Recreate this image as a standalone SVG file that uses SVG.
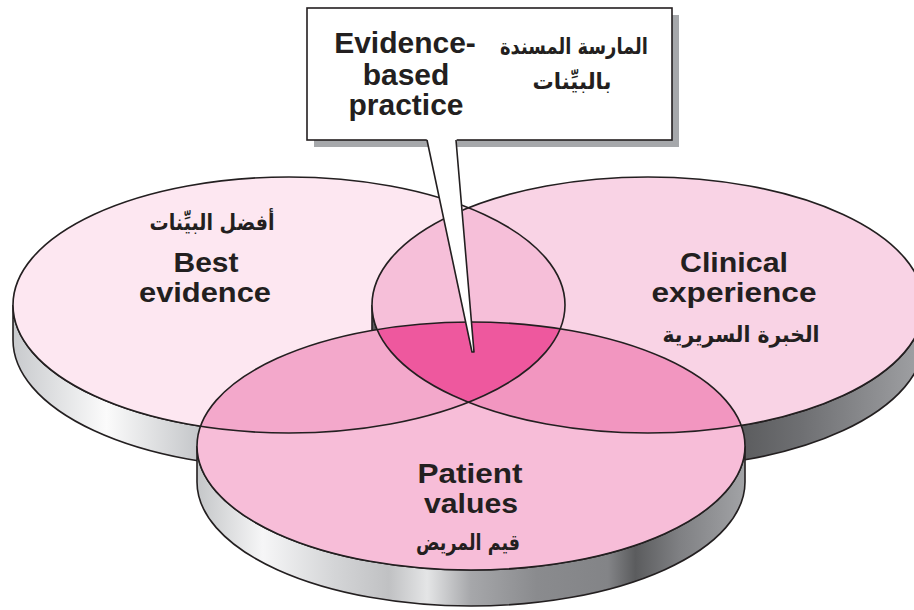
<svg xmlns="http://www.w3.org/2000/svg" width="914" height="610" viewBox="0 0 914 610">
  <defs>
    <style>
      .edge { fill: none; stroke: #231f20; stroke-width: 1.6; }
      .side { stroke: #231f20; stroke-width: 1.6; }
      .en { font-family: "Liberation Sans", Arial, Helvetica, sans-serif; font-weight: bold; font-size: 28px; fill: #231f20; text-anchor: middle; }
      .box { font-size: 30px; }
      .ar { font-family: "DejaVu Sans", "Noto Sans", sans-serif; font-weight: bold; font-size: 22px; fill: #231f20; text-anchor: middle; direction: rtl; }
    </style>
    <linearGradient id="gSideL" gradientUnits="userSpaceOnUse" x1="13" y1="0" x2="200" y2="0">
      <stop offset="0" stop-color="#c8cacd"/>
      <stop offset="0.5" stop-color="#fbfbfb"/>
      <stop offset="1" stop-color="#c4c6c9"/>
    </linearGradient>
    <linearGradient id="gSideR" gradientUnits="userSpaceOnUse" x1="740" y1="0" x2="914" y2="0">
      <stop offset="0" stop-color="#5b5c5e"/>
      <stop offset="0.35" stop-color="#6e6f72"/>
      <stop offset="1" stop-color="#9d9ea1"/>
    </linearGradient>
    <linearGradient id="gSideB" gradientUnits="userSpaceOnUse" x1="197" y1="0" x2="745" y2="0">
      <stop offset="0" stop-color="#c4c6c8"/>
      <stop offset="0.12" stop-color="#f6f6f7"/>
      <stop offset="0.25" stop-color="#d4d5d7"/>
      <stop offset="0.35" stop-color="#c0c1c3"/>
      <stop offset="0.42" stop-color="#e4e5e6"/>
      <stop offset="0.5" stop-color="#a6a7aa"/>
      <stop offset="0.62" stop-color="#8a8b8e"/>
      <stop offset="0.75" stop-color="#838487"/>
      <stop offset="0.8" stop-color="#5b5c5e"/>
      <stop offset="0.88" stop-color="#7f8083"/>
      <stop offset="1" stop-color="#a2a3a6"/>
    </linearGradient>
    <clipPath id="clipL"><ellipse cx="289" cy="305" rx="276" ry="128"/></clipPath>
    <clipPath id="clipR"><ellipse cx="648" cy="305" rx="276" ry="128"/></clipPath>
  </defs>

  <!-- disk sides (drawn first, faces cover them) -->
  <g id="disk-best-evidence-side">
    <path class="side" fill="url(#gSideL)" d="M13,305 A276,128 0 0 0 565,305 L565,340 A276,128 0 0 1 13,340 Z"/>
  </g>
  <g id="disk-best-evidence">
    <ellipse cx="289" cy="305" rx="276" ry="128" fill="#fde7f1"/>
  </g>
  <g id="disk-clinical-experience-side">
    <path class="side" fill="url(#gSideR)" d="M372,305 A276,128 0 0 0 924,305 L924,340 A276,128 0 0 1 372,340 Z"/>
  </g>
  <g id="disk-clinical-experience">
    <ellipse cx="648" cy="305" rx="276" ry="128" fill="#f9d3e5"/>
  </g>
  <g id="disk-patient-values-side">
    <path class="side" fill="url(#gSideB)" d="M197,446 A274,124 0 0 0 745,446 L745,482 A274,124 0 0 1 197,482 Z"/>
  </g>
  <g id="disk-patient-values">
    <ellipse cx="471" cy="446" rx="274" ry="124" fill="#f7bdd8"/>
  </g>

  <!-- overlap regions -->
  <g id="overlaps">
    <ellipse clip-path="url(#clipL)" cx="648" cy="305" rx="276" ry="128" fill="#f6bfd9"/>
    <ellipse clip-path="url(#clipL)" cx="471" cy="446" rx="274" ry="124" fill="#f3a8cb"/>
    <ellipse clip-path="url(#clipR)" cx="471" cy="446" rx="274" ry="124" fill="#f296c0"/>
    <g clip-path="url(#clipL)">
      <g clip-path="url(#clipR)">
        <ellipse cx="471" cy="446" rx="274" ry="124" fill="#ee589e"/>
      </g>
    </g>
  </g>

  <!-- face outlines on top of all fills -->
  <g id="outlines">
    <ellipse class="edge" cx="289" cy="305" rx="276" ry="128"/>
    <ellipse class="edge" cx="648" cy="305" rx="276" ry="128"/>
    <ellipse class="edge" cx="471" cy="446" rx="274" ry="124"/>
  </g>

  <!-- disk labels -->
  <g id="label-best-evidence">
    <text class="ar" x="212" y="230" textLength="125" lengthAdjust="spacingAndGlyphs">أفضل البيِّنات</text>
    <text class="en" x="206" y="272" textLength="65" lengthAdjust="spacingAndGlyphs">Best</text>
    <text class="en" x="205" y="302" textLength="132" lengthAdjust="spacingAndGlyphs">evidence</text>
  </g>
  <g id="label-clinical-experience">
    <text class="en" x="734" y="272" textLength="108" lengthAdjust="spacingAndGlyphs">Clinical</text>
    <text class="en" x="734" y="302" textLength="165" lengthAdjust="spacingAndGlyphs">experience</text>
    <text class="ar" x="741" y="342" textLength="157" lengthAdjust="spacingAndGlyphs">الخبرة السريرية</text>
  </g>
  <g id="label-patient-values">
    <text class="en" x="470" y="483" textLength="105" lengthAdjust="spacingAndGlyphs">Patient</text>
    <text class="en" x="471" y="513" textLength="94" lengthAdjust="spacingAndGlyphs">values</text>
    <text class="ar" x="468" y="550" textLength="104" lengthAdjust="spacingAndGlyphs">قيم المريض</text>
  </g>

  <!-- callout box with pointer into the centre overlap -->
  <g id="callout-evidence-based-practice">
    <rect x="314" y="15" width="365" height="132" fill="#a6a8ab"/>
    <rect x="307" y="8" width="365" height="132" fill="#ffffff" stroke="#231f20" stroke-width="1.6"/>
    <polygon points="426.5,138 472,352 474,352 456.5,138" fill="#ffffff"/>
    <polyline points="427,140 472,352 474,352 456,140" fill="none" stroke="#231f20" stroke-width="1.6" stroke-linejoin="round"/>
    <text class="en box" x="405" y="53">Evidence-</text>
    <text class="en box" x="406" y="85">based</text>
    <text class="en box" x="406" y="115">practice</text>
    <text class="ar" x="574" y="54" textLength="148" lengthAdjust="spacingAndGlyphs">المارسة المسندة</text>
    <text class="ar" x="572" y="89" textLength="79" lengthAdjust="spacingAndGlyphs">بالبيِّنات</text>
  </g>
</svg>
